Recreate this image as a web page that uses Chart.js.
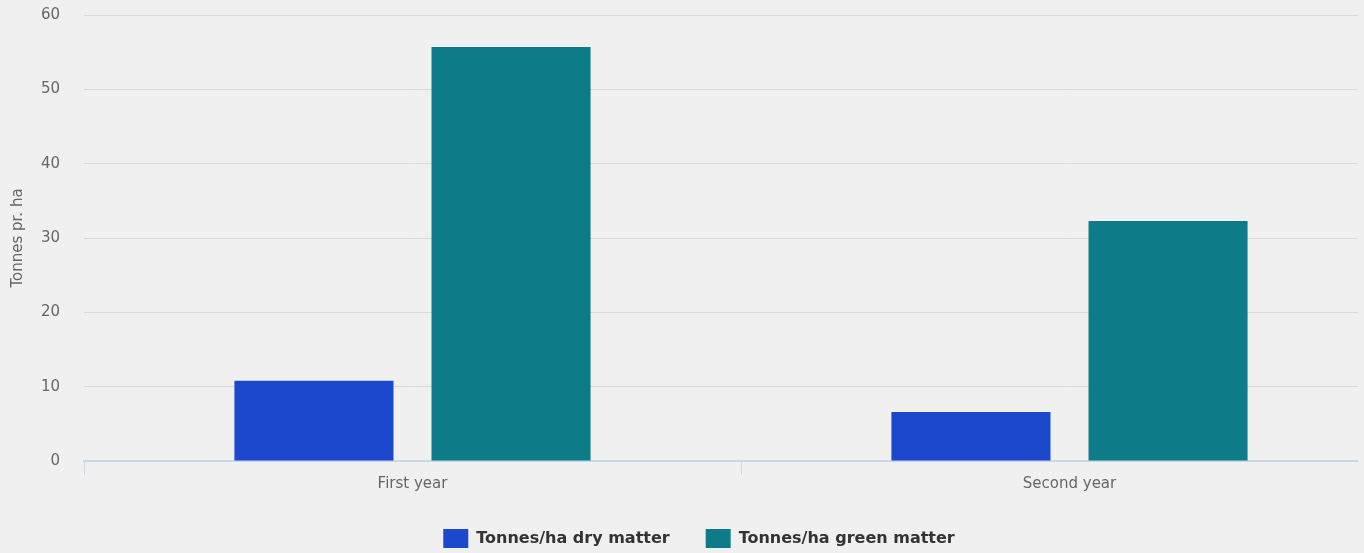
<!DOCTYPE html>
<html>
<head>
<meta charset="utf-8">
<script src="https://cdn.jsdelivr.net/npm/chart.js@4"></script>
<style>
  html, body { margin: 0; padding: 0; background: #f0f0f0; overflow: hidden; }
  #clip { width: 1358px; height: 553px; overflow: hidden; }
  #wrap { width: 1400px; height: 553px; }
</style>
</head>
<body>
<div id="clip"><div id="wrap"><canvas id="yieldChart"></canvas></div></div>
<script>
// données
const categories = ['First year', 'Second year'];
const dryMatter = [10.8, 6.6];
const greenMatter = [55.7, 32.3];
const yTicks = [0, 10, 20, 30, 40, 50, 60];

const fontFamily = "'DejaVu Sans', Verdana, sans-serif";

function drawChart() {
  const ctx = document.getElementById('yieldChart').getContext('2d');
  new Chart(ctx, {
    type: 'bar',
    data: {
      labels: categories,
      datasets: [{
        label: 'Tonnes/ha dry matter',
        data: dryMatter,
        backgroundColor: '#1b48cc',
        categoryPercentage: 0.6,
        barPercentage: 0.807
      }, {
        label: 'Tonnes/ha green matter',
        data: greenMatter,
        backgroundColor: '#0e7b88',
        categoryPercentage: 0.6,
        barPercentage: 0.807
      }]
    },
    options: {
      responsive: true,
      maintainAspectRatio: false,
      animation: false,
      layout: { padding: { top: 15, bottom: 0, left: 0, right: 2 } },
      plugins: {
        tooltip: { enabled: false },
        legend: {
          position: 'bottom',
          maxHeight: 60,
          labels: {
            boxWidth: 25,
            boxHeight: 19,
            padding: 36,
            color: '#333333',
            font: { family: fontFamily, size: 16, weight: 'bold' }
          }
        }
      },
      scales: {
        x: {
          grid: { offset: true, drawOnChartArea: false, tickLength: 14, color: '#ccd6eb', lineWidth: 1 },
          border: { color: '#ccd6eb', width: 2 },
          ticks: { color: '#666666', padding: 0, font: { family: fontFamily, size: 15 } },
          afterFit: function (scale) { scale.height = 32; }
        },
        y: {
          min: 0,
          max: 60,
          afterBuildTicks: function (scale) { scale.ticks = yTicks.map(v => ({ value: v })); },
          grid: { color: '#d8d8d8', drawTicks: false },
          border: { display: false },
          ticks: { color: '#666666', padding: 24, font: { family: fontFamily, size: 15 } },
          title: {
            display: true,
            text: 'Tonnes pr. ha',
            color: '#666666',
            padding: { top: 9, bottom: 0 },
            font: { family: fontFamily, size: 15 }
          },
          afterFit: function (scale) {
            scale.width = 84;
            scale.paddingTop = 0;
            scale.paddingBottom = 0;
          }
        }
      }
    }
  });
}

Promise.all([
  document.fonts.load("15px 'DejaVu Sans'"),
  document.fonts.load("bold 16px 'DejaVu Sans'")
]).then(drawChart, drawChart);
</script>
</body>
</html>
